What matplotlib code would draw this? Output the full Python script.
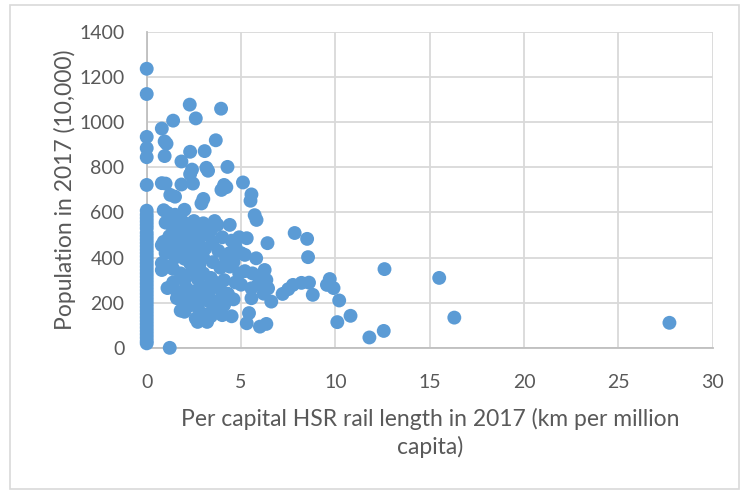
import numpy as np
import matplotlib.pyplot as plt
from matplotlib.patches import Rectangle

# cities with no HSR line (x = 0)
pop_zero = [1237, 1125, 935, 885, 845, 722, 608, 590, 575, 560, 545, 530, 510,
            495, 480, 465, 450, 435, 420, 405, 390, 375, 360, 345, 330, 315,
            300, 285, 270, 255, 240, 225, 210, 195, 180, 165, 150, 135, 120,
            105, 90, 75, 60, 45, 30, 20]

# cities with HSR: (km per million capita, population in 10,000)
hsr_len = [1.22, 2.28, 3.94, 2.6, 1.4, 0.8, 0.95, 1.05, 0.95, 2.3, 3.07, 3.66,
           1.84, 3.16, 3.25, 2.4, 2.3, 4.28, 0.8, 1.0, 1.84, 2.45, 4.1, 4.22,
           3.96, 5.1, 5.55, 5.5, 1.25, 1.5, 3.0, 2.9, 5.72, 5.82, 4.4, 6.4,
           7.84, 8.5, 8.55, 7.2, 7.5, 7.75, 8.2, 8.6, 8.8, 9.55, 9.7, 9.9,
           10.2, 10.1, 10.8, 12.6, 11.8, 12.56, 15.5, 16.3, 27.7, 5.2, 5.8,
           6.25, 6.34, 6.43, 6.6, 5.42, 5.3, 6.0, 6.34, 5.55, 5.55, 5.3,
           0.9, 1.1, 2.0, 1.5, 1.7, 2.5, 3.0, 3.6, 3.75, 1.3, 1.9, 2.3, 2.7,
           3.2, 1.0, 1.6, 2.1, 1.2, 0.9, 0.8, 1.5, 2.0, 2.5, 2.9, 3.4, 4.0,
           4.5, 4.9, 3.5, 1.3, 1.7, 2.2, 2.7, 3.1, 3.8, 4.4, 4.7, 1.0, 1.5,
           2.0, 2.6, 3.0, 4.2, 4.6, 5.0, 0.8, 1.1, 0.8, 1.4, 2.3, 2.8, 3.5,
           3.9, 4.4, 4.9, 5.2, 5.6, 6.0, 1.8, 2.4, 3.0, 3.4, 2.0, 2.7, 3.6,
           4.1, 4.7, 5.0, 5.9, 6.2, 1.4, 1.1, 1.6, 2.1, 2.5, 3.0, 3.3, 3.9,
           4.3, 4.6, 1.6, 1.9, 2.4, 2.9, 3.2, 3.8, 4.1, 1.8, 2.2, 2.7, 3.0,
           3.5, 2.6, 2.7, 3.2, 3.4, 4.0, 4.5, 3.9, 2.0]
hsr_pop = [0, 1078, 1060, 1017, 1007, 972, 915, 905, 850, 869, 872, 920,
           826, 798, 785, 790, 770, 802, 730, 728, 724, 728, 722, 712,
           700, 733, 680, 652, 678, 670, 660, 640, 588, 567, 545, 464,
           509, 483, 402, 239, 260, 279, 288, 289, 235, 279, 305, 265,
           210, 114, 142, 349, 46, 75, 310, 134, 111, 412, 397,
           345, 301, 264, 205, 154, 109, 94, 106, 264, 220, 486,
           610, 598, 612, 590, 575, 562, 552, 562, 545, 545, 560, 535, 520,
           505, 555, 525, 505, 495, 470, 455, 470, 480, 490, 495, 520, 490,
           475, 490, 470, 440, 430, 445, 450, 440, 430, 420, 450, 420, 400,
           395, 410, 400, 395, 380, 420, 375, 360, 345, 350, 375, 370, 380,
           355, 360, 330, 340, 330, 320, 330, 340, 330, 310, 300, 305, 290,
           300, 290, 280, 280, 240, 290, 265, 250, 265, 250, 270, 250, 260,
           240, 215, 220, 210, 220, 230, 210, 210, 190, 165, 185, 180, 150,
           170, 130, 115, 115, 140, 145, 140, 165, 160]

x = np.concatenate([np.zeros(len(pop_zero)), hsr_len])
y = np.concatenate([pop_zero, hsr_pop])

plt.rcParams['font.family'] = ['Lato', 'DejaVu Sans']
text_col = '#595959'

fig = plt.figure(figsize=(7.41, 4.92), dpi=100)
ax = fig.add_axes([0.198, 0.293, 0.764, 0.642])
ax.scatter(x, y, s=100, color='#5b9bd5', edgecolors='none', zorder=3, clip_on=False)

ax.set_xlim(0, 30)
ax.set_ylim(0, 1400)
ax.set_xticks(np.arange(0, 31, 5))
ax.set_yticks(np.arange(0, 1401, 200))
ax.grid(color='#d9d9d9', linewidth=1.3, zorder=0)
ax.set_axisbelow(True)
for side in ['top', 'right']:
    ax.spines[side].set_visible(False)
for side in ['left', 'bottom']:
    ax.spines[side].set_color('#bfbfbf')
    ax.spines[side].set_linewidth(1.3)
ax.tick_params(length=0, labelsize=14, colors=text_col)
ax.tick_params(axis='x', pad=19)
ax.tick_params(axis='y', pad=16)

ax.set_xlabel('Per capital HSR rail length in 2017 (km per million\ncapita)',
              fontsize=16.5, color=text_col, labelpad=12, linespacing=1.35)
ax.set_ylabel('Population in 2017 (10,000)', fontsize=16.5, color=text_col, labelpad=2)

# chart border
fig.patches.append(Rectangle((0.013, 0.006), 0.984, 0.984, transform=fig.transFigure,
                             fill=False, edgecolor='#d9d9d9', linewidth=1.2))

fig.savefig('out.png', dpi=100)
